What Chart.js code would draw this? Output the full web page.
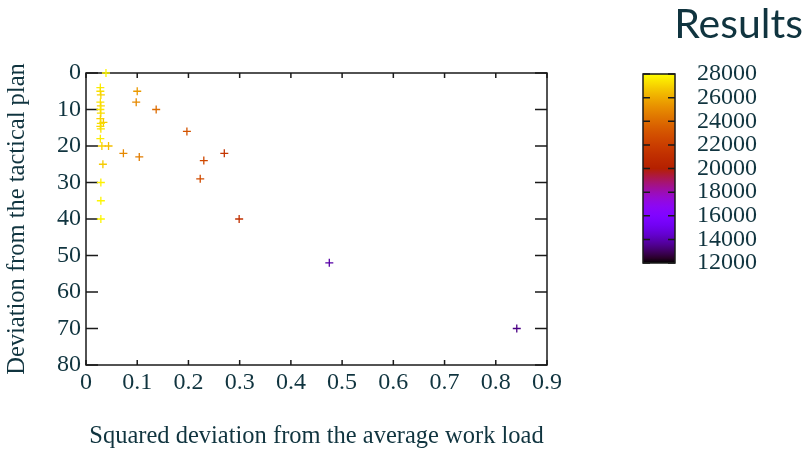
<!DOCTYPE html>
<html lang="en">
<head>
    <meta charset="UTF-8">
    <title>Results</title>
    <script src="https://cdn.jsdelivr.net/npm/chart.js"></script>
    <style>
        body { margin: 0; background: #fff; }
    </style>
</head>
<body>
    <canvas id="resultsChart" width="808" height="451"></canvas>

    <script>
        // one entry per run: workload deviation (x), plan deviation (y), colour value
        const workLoad = [0.039, 0.028, 0.028, 0.029, 0.028, 0.029, 0.028, 0.029, 0.028, 0.034, 0.029,
                          0.028, 0.029, 0.028, 0.031, 0.044, 0.033, 0.029, 0.029, 0.029,
                          0.100, 0.098, 0.137, 0.073, 0.104, 0.197, 0.270, 0.230, 0.223, 0.299, 0.475, 0.841];
        const planDev = [0, 4, 5, 6, 8, 9, 10, 11, 12.5, 13.5, 13.8,
                         14.6, 15.3, 18, 20, 20, 25, 30, 35, 40,
                         5, 8, 10, 22, 23, 16, 22, 24, 29, 40, 52, 70];
        const results = [27800, 27600, 27300, 27000, 27400, 27100, 27500, 27200, 27000, 26800, 27300,
                         27100, 27400, 27600, 27000, 26500, 26800, 27700, 27800, 27800,
                         25500, 25000, 24000, 25000, 24600, 23000, 21500, 22500, 22700, 21200, 13800, 13400];

        const xTicks = [0, 0.1, 0.2, 0.3, 0.4, 0.5, 0.6, 0.7, 0.8, 0.9];
        const yTicks = [0, 10, 20, 30, 40, 50, 60, 70, 80];
        const cbTicks = [12000, 14000, 16000, 18000, 20000, 22000, 24000, 26000, 28000];

        const textColor = '#10343f';
        const serif = '"Liberation Serif", "DejaVu Serif", serif';
        const cbMin = cbTicks[0];
        const cbMax = cbTicks[cbTicks.length - 1];

        // gnuplot style palette: r = sqrt(t), g = t^3, b = sin(2 pi t)
        function palette(v) {
            let t = (v - cbMin) / (cbMax - cbMin);
            t = Math.min(1, Math.max(0, t));
            const r = Math.sqrt(t);
            const g = t * t * t;
            const b = Math.max(0, Math.sin(2 * Math.PI * t));
            return `rgb(${Math.round(r * 255)}, ${Math.round(g * 255)}, ${Math.round(b * 255)})`;
        }

        const points = workLoad.map((x, i) => ({ x: x, y: planDev[i] }));
        const pointColors = results.map(palette);

        const frame = {
            id: 'frame',
            beforeDatasetsDraw(chart) {
                const ctx = chart.ctx;
                const a = chart.chartArea;
                const xs = chart.scales.x;
                const ys = chart.scales.y;
                ctx.save();
                ctx.strokeStyle = '#1a1a1a';
                ctx.lineWidth = 1.5;
                ctx.strokeRect(a.left, a.top, a.right - a.left, a.bottom - a.top);
                ctx.beginPath();
                xTicks.forEach(v => {
                    const px = xs.getPixelForValue(v);
                    ctx.moveTo(px, a.bottom); ctx.lineTo(px, a.bottom - 5);
                    ctx.moveTo(px, a.top); ctx.lineTo(px, a.top + 5);
                });
                yTicks.forEach(v => {
                    const py = ys.getPixelForValue(v);
                    ctx.moveTo(a.left, py); ctx.lineTo(a.left + 12, py);
                    ctx.moveTo(a.right, py); ctx.lineTo(a.right - 12, py);
                });
                ctx.stroke();
                ctx.restore();
            },
            afterDraw(chart) {
                const ctx = chart.ctx;
                ctx.save();

                // colour bar
                const left = 643, right = 675, top = 74, bottom = 263;
                const cbPix = v => bottom - (v - cbMin) / (cbMax - cbMin) * (bottom - top);
                const grad = ctx.createLinearGradient(0, bottom, 0, top);
                for (let i = 0; i <= 40; i++) {
                    grad.addColorStop(i / 40, palette(cbMin + (cbMax - cbMin) * i / 40));
                }
                ctx.fillStyle = grad;
                ctx.fillRect(left, top, right - left, bottom - top);
                ctx.strokeStyle = '#1a1a1a';
                ctx.lineWidth = 1.5;
                ctx.strokeRect(left, top, right - left, bottom - top);
                ctx.beginPath();
                cbTicks.forEach(v => {
                    const py = cbPix(v);
                    ctx.moveTo(left, py); ctx.lineTo(left + 7, py);
                    ctx.moveTo(right, py); ctx.lineTo(right - 7, py);
                });
                ctx.stroke();

                ctx.fillStyle = textColor;
                ctx.font = '24px ' + serif;
                ctx.textAlign = 'left';
                ctx.textBaseline = 'middle';
                cbTicks.forEach(v => ctx.fillText(String(v), 697, cbPix(v)));

                // heading
                ctx.font = '41px Lato, "Open Sans", sans-serif';
                ctx.textAlign = 'right';
                ctx.textBaseline = 'alphabetic';
                ctx.fillText('Results', 803, 38);
                ctx.restore();
            }
        };

        new Chart(document.getElementById('resultsChart'), {
            type: 'scatter',
            data: {
                datasets: [{
                    data: points,
                    pointStyle: 'cross',
                    pointRadius: 4,
                    pointHoverRadius: 4,
                    pointBorderWidth: 1.3,
                    pointBorderColor: pointColors,
                    pointBackgroundColor: pointColors,
                    clip: false
                }]
            },
            options: {
                responsive: false,
                animation: false,
                events: [],
                layout: { padding: { top: 73, right: 261, left: 0, bottom: 0 } },
                plugins: {
                    legend: { display: false },
                    tooltip: { enabled: false }
                },
                scales: {
                    x: {
                        type: 'linear',
                        min: 0,
                        max: 0.9,
                        afterBuildTicks: scale => { scale.ticks = xTicks.map(v => ({ value: v })); },
                        afterFit: scale => { scale.height = 86; },
                        grid: { display: false, drawTicks: false },
                        border: { display: false },
                        ticks: {
                            color: textColor,
                            font: { family: serif, size: 24 },
                            padding: 3,
                            maxRotation: 0,
                            autoSkip: false,
                            callback: v => String(Math.round(v * 10) / 10)
                        },
                        title: {
                            display: true,
                            text: 'Squared deviation from the average work load',
                            color: textColor,
                            font: { family: serif, size: 24.5 },
                            padding: 0
                        }
                    },
                    y: {
                        type: 'linear',
                        reverse: true,
                        min: 0,
                        max: 80,
                        afterBuildTicks: scale => { scale.ticks = yTicks.map(v => ({ value: v })); },
                        afterFit: scale => { scale.width = 86; },
                        grid: { display: false, drawTicks: false },
                        border: { display: false },
                        ticks: {
                            color: textColor,
                            font: { family: serif, size: 24 },
                            padding: 5,
                            autoSkip: false
                        },
                        title: {
                            display: true,
                            text: 'Deviation from the tactical plan',
                            color: textColor,
                            font: { family: serif, size: 24.5 },
                            padding: 3
                        }
                    }
                }
            },
            plugins: [frame]
        });
    </script>
</body>
</html>
